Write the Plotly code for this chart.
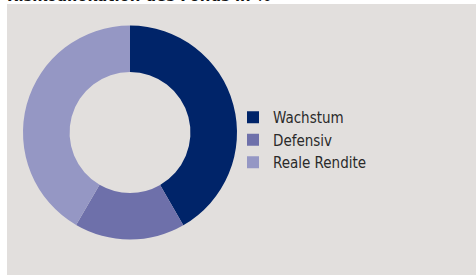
import plotly.graph_objects as go

categories = ["Wachstum", "Defensiv", "Reale Rendite"]
values = [41.7, 16.7, 41.6]
colors = ["#002469", "#6e70aa", "#9597c4"]
title = "Risikoallokation des Fonds in %"

W, H = 476, 275
cx, cy, r = 130, 132.5, 107
FONT = "DejaVu Sans Condensed, sans-serif"

fig = go.Figure(go.Pie(
    labels=categories, values=values, sort=False,
    direction="clockwise", rotation=0, hole=0.565,
    marker=dict(colors=colors, line=dict(width=0)),
    textinfo="none", hoverinfo="label+value",
    domain=dict(x=[(cx - r) / W, (cx + r) / W], y=[(H - cy - r) / H, (H - cy + r) / H]),
))

fig.update_layout(
    width=W, height=H,
    margin=dict(l=0, r=0, t=0, b=0),
    paper_bgcolor="#ffffff",
    plot_bgcolor="#e2dfdd",
    showlegend=True,
    legend=dict(
        x=233 / W, y=(H - 101) / H, xanchor="left", yanchor="top",
        bgcolor="rgba(0,0,0,0)",
        font=dict(family=FONT, size=15, color="#2a2a2a"),
        itemwidth=30, tracegroupgap=0,
    ),
    shapes=[dict(type="rect", xref="paper", yref="paper", x0=7 / W, x1=1, y0=0, y1=(H - 4) / H,
                 fillcolor="#e2dfdd", line=dict(width=0), layer="below")],
    annotations=[dict(text="<b>" + title + "</b>", xref="paper", yref="paper", x=5 / W, y=(H - 7.5) / H,
                      xanchor="left", yanchor="bottom", showarrow=False,
                      font=dict(family=FONT, size=16.5, color="#111111"))],
)

fig.write_html("out.html", config={"displayModeBar": False},
               post_script="document.body.style.margin='0';document.body.style.overflow='hidden';")
